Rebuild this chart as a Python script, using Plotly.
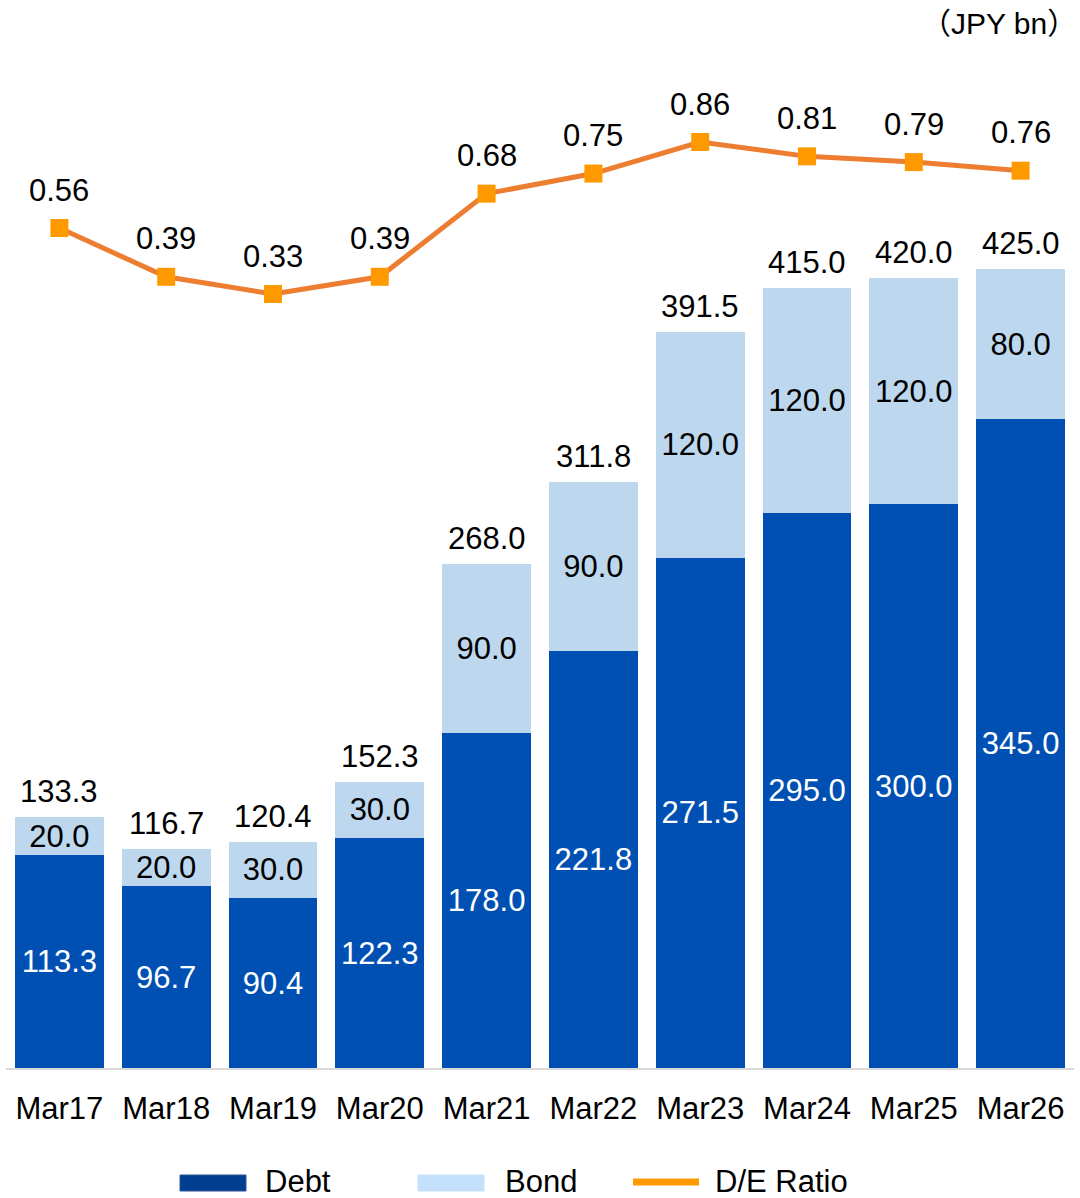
import plotly.graph_objects as go

years = ["Mar17", "Mar18", "Mar19", "Mar20", "Mar21", "Mar22", "Mar23", "Mar24", "Mar25", "Mar26"]
debt = [113.3, 96.7, 90.4, 122.3, 178.0, 221.8, 271.5, 295.0, 300.0, 345.0]
bond = [20.0, 20.0, 30.0, 30.0, 90.0, 90.0, 120.0, 120.0, 120.0, 80.0]
total = [133.3, 116.7, 120.4, 152.3, 268.0, 311.8, 391.5, 415.0, 420.0, 425.0]
de_ratio = [0.56, 0.39, 0.33, 0.39, 0.68, 0.75, 0.86, 0.81, 0.79, 0.76]

FONT = "Liberation Sans, Arial, Noto Sans CJK JP, sans-serif"
FS = 31
DEBT_C = "#0050B4"
BOND_C = "#BDD7EE"
LINE_C = "#ED7D31"
MARK_C = "#FF9900"

fig = go.Figure()

fig.add_bar(x=years, y=debt, name="Debt", marker_color=DEBT_C, marker_line_width=0,
            text=[f"{v:.1f}" for v in debt], textposition="inside", insidetextanchor="middle",
            constraintext="none", textangle=0,
            textfont=dict(color="white", size=FS, family=FONT))
fig.add_bar(x=years, y=bond, name="Bond", marker_color=BOND_C, marker_line_width=0,
            text=[f"{v:.1f}" for v in bond], textposition="inside", insidetextanchor="middle",
            constraintext="none", textangle=0,
            textfont=dict(color="black", size=FS, family=FONT))
fig.add_scatter(x=years, y=de_ratio, name="D/E Ratio", yaxis="y2", mode="lines+markers",
                line=dict(color=LINE_C, width=5),
                marker=dict(symbol="square", size=18, color=MARK_C))

# totals above bars
for x, t in zip(years, total):
    fig.add_annotation(x=x, y=t, text=f"{t:.1f}", showarrow=False, yanchor="bottom", yshift=6,
                       font=dict(size=FS, color="black", family=FONT))
# ratio labels
for x, r in zip(years, de_ratio):
    fig.add_annotation(x=x, y=r, yref="y2", text=f"{r:.2f}", showarrow=False, yanchor="middle",
                       yshift=38, font=dict(size=FS, color="black", family=FONT))

fig.add_annotation(x=1, xref="paper", y=1.0, yref="paper", yshift=37, xshift=5,
                   xanchor="right", yanchor="middle",
                   text="（JPY bn）", showarrow=False, font=dict(size=30, color="black", family=FONT))

# custom legend (pixels converted to paper units: plot x 6..1074, y 60..1068)
def px_x(p):
    return (p - 6) / 1068

def px_y(p):
    return (1068 - p) / 1008

legend_items = [
    ("Debt", "#003F8F", 180, 246, 263, "rect"),
    ("Bond", "#C5E0FA", 418, 484, 503, "rect"),
    ("D/E Ratio", MARK_C, 633, 699, 713, "line"),
]
for label, col, x0, x1, tx, kind in legend_items:
    if kind == "rect":
        fig.add_shape(type="rect", xref="paper", yref="paper", x0=px_x(x0), x1=px_x(x1),
                      y0=px_y(1175), y1=px_y(1191), fillcolor=col,
                      line=dict(color="#2F5597" if label == "Debt" else col, width=1))
    else:
        fig.add_shape(type="line", xref="paper", yref="paper", x0=px_x(x0), x1=px_x(x1),
                      y0=px_y(1182), y1=px_y(1182), line=dict(color=col, width=7))
    fig.add_annotation(x=px_x(tx), y=px_y(1181), xref="paper", yref="paper", xanchor="left",
                       yanchor="middle", text=label, showarrow=False,
                       font=dict(size=FS, color="black", family=FONT))

fig.update_layout(
    width=1080, height=1198,
    margin=dict(l=6, r=6, t=60, b=130),
    barmode="stack", bargap=0.17,
    plot_bgcolor="white", paper_bgcolor="white",
    showlegend=False,
    font=dict(family=FONT, size=FS, color="black"),
    xaxis=dict(showline=True, linecolor="#D9D9D9", linewidth=2, ticks="outside", ticklen=12,
               tickcolor="rgba(0,0,0,0)", tickfont=dict(size=FS, color="black", family=FONT),
               range=[-0.5, 9.5]),
    yaxis=dict(range=[0, 536.2], visible=False, showgrid=False),
    yaxis2=dict(range=[-2.369, 1.146], overlaying="y", side="right", visible=False, showgrid=False),
)

fig.write_html("out.html", config={"displayModeBar": False},
               post_script="document.body.style.margin='0';")
